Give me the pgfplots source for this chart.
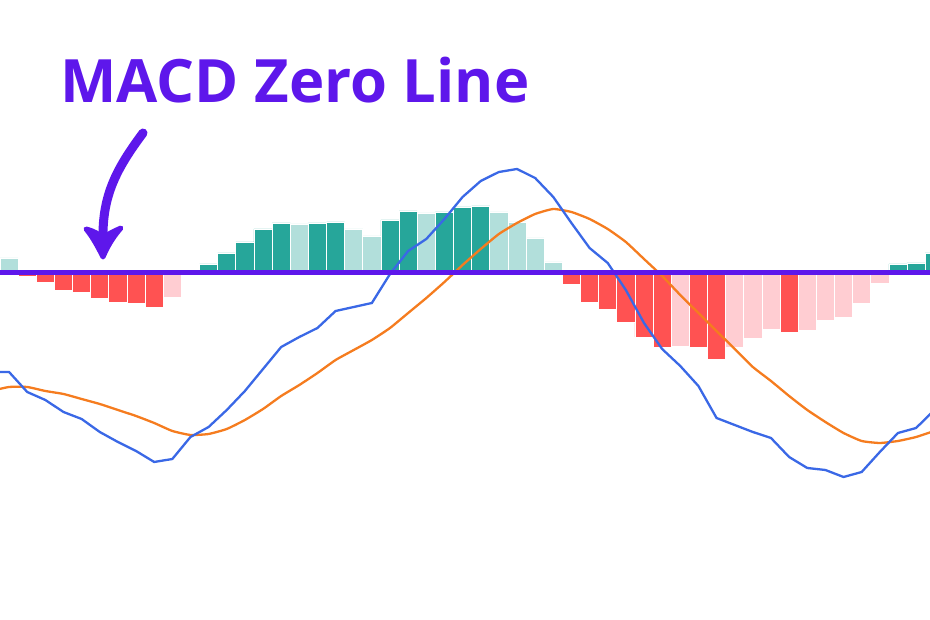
\documentclass[border=0pt]{standalone}
\usepackage{fontspec}
\setmainfont{Open Sans}
\usepackage{pgfplots}
\pgfplotsset{compat=1.18}
\definecolor{TealD}{HTML}{26A69A}
\definecolor{TealL}{HTML}{B2DFDB}
\definecolor{RedD}{HTML}{FF5252}
\definecolor{RedL}{HTML}{FFCDD2}
\definecolor{MacdBlue}{HTML}{3A68E6}
\definecolor{SigOrange}{HTML}{F57C1F}
\definecolor{ZeroPurple}{HTML}{5E17EB}

\begin{document}
\begin{tikzpicture}[x=1bp,y=1bp]
  \useasboundingbox (0,0) rectangle (930,620);
  \begin{axis}[
    at={(0,0)}, anchor=south west,
    scale only axis, width=930bp, height=620bp,
    xmin=-0.5, xmax=50.767,
    ymin=-347.5, ymax=272.5,
    hide axis, clip=true
  ]
    % histogram, one series per colour
    \addplot[ybar, bar width=1, bar shift=0pt, fill=TealD, draw=white, line width=0.7bp]
      coordinates {(11,8.5)(12,19.5)(13,30.5)(14,43.5)(15,49.5)(17,49.5)(18,50.5)
        (21,52.5)(22,61.5)(24,60.5)(25,65.5)(26,66.5)(49,8.5)(50,9.5)(51,19.5)};
    \addplot[ybar, bar width=1, bar shift=0pt, fill=TealL, draw=white, line width=0.7bp]
      coordinates {(0,14.5)(16,48.5)(19,43.5)(20,36.5)(23,59.5)(27,60.5)(28,50.5)
        (29,34.5)(30,10.5)};
    \addplot[ybar, bar width=1, bar shift=0pt, fill=RedD, draw=white, line width=0.7bp]
      coordinates {(1,-3.5)(2,-9.5)(3,-17.5)(4,-19.5)(5,-25.5)(6,-29.5)(7,-30.5)
        (8,-34.5)(31,-11.5)(32,-29.5)(33,-36.5)(34,-49.5)(35,-64.5)(36,-74.5)
        (38,-74.5)(39,-86.5)(43,-59.5)};
    \addplot[ybar, bar width=1, bar shift=0pt, fill=RedL, draw=white, line width=0.7bp]
      coordinates {(9,-24.5)(37,-73.5)(40,-74.5)(41,-65.5)(42,-56.5)(44,-57.5)
        (45,-47.5)(46,-44.5)(47,-30.5)(48,-10.5)};
    % signal line
    \addplot[SigOrange, line width=2.3bp, smooth, tension=0.3]
      coordinates {(-1,-118.5)(0,-114.5)(1,-114.5)(2,-118.5)(3,-121.5)(4,-126.5)
        (5,-131.5)(6,-137.5)(7,-143.5)(8,-150.5)(9,-158.5)(10,-162.5)(11,-161.5)
        (12,-156.5)(13,-147.5)(14,-136.5)(15,-123.5)(16,-112.5)(17,-100.5)
        (18,-87.5)(19,-77.5)(20,-67.5)(21,-55.5)(22,-40.5)(23,-25.5)(24,-9.5)
        (25,7.5)(26,23.5)(27,38.5)(28,49.5)(29,58.5)(30,63.5)(31,60.5)(32,53.5)
        (33,43.5)(34,30.5)(35,13.5)(36,-3.5)(37,-22.5)(38,-40.5)(39,-58.5)
        (40,-76.5)(41,-94.5)(42,-108.5)(43,-123.5)(44,-137.5)(45,-149.5)
        (46,-160.5)(47,-168.5)(48,-170.5)(49,-168.5)(50,-164.5)(51,-158.5)};
    % MACD line
    \addplot[MacdBlue, line width=2.3bp]
      coordinates {(-1,-99.5)(0,-99.5)(1,-119.5)(2,-127.5)(3,-139.5)(4,-146.5)
        (5,-159.5)(6,-169.5)(7,-178.5)(8,-189.5)(9,-186.5)(10,-164.5)(11,-154.5)
        (12,-137.5)(13,-118.5)(14,-96.5)(15,-74.5)(16,-64.5)(17,-55.5)(18,-38.5)
        (19,-34.5)(20,-30.5)(21,-1.5)(22,21.5)(23,33.5)(24,53.5)(25,75.5)
        (26,91.5)(27,100.5)(28,103.5)(29,94.5)(30,75.5)(31,49.5)(32,24.5)
        (33,9.5)(34,-17.5)(35,-50.5)(36,-76.5)(37,-93.5)(38,-113.5)(39,-145.5)
        (40,-152.5)(41,-159.5)(42,-165.5)(43,-184.5)(44,-195.5)(45,-197.5)
        (46,-204.5)(47,-199.5)(48,-179.5)(49,-160.5)(50,-155.5)(51,-137.5)};
    % zero line
    \addplot[ZeroPurple, line width=5bp] coordinates {(-1,0)(52,0)};
  \end{axis}

  % title
  \node[anchor=base west, inner sep=0pt, font=\fontsize{60}{60}\selectfont\bfseries,
    text=ZeroPurple] at (60,517) {MACD Zero Line};

  % hand-drawn arrow
  \draw[ZeroPurple, line width=9bp, line cap=round]
    (143,487) .. controls (117,452) and (102,425) .. (103,380);
  \filldraw[ZeroPurple, line width=5bp, line join=round]
    (103,363) .. controls (96,377) and (91,385) .. (86,391)
    .. controls (94,389) and (99,386) .. (103,382)
    .. controls (108,386) and (114,389) .. (121,392)
    .. controls (115,385) and (109,377) .. cycle;
\end{tikzpicture}
\end{document}
